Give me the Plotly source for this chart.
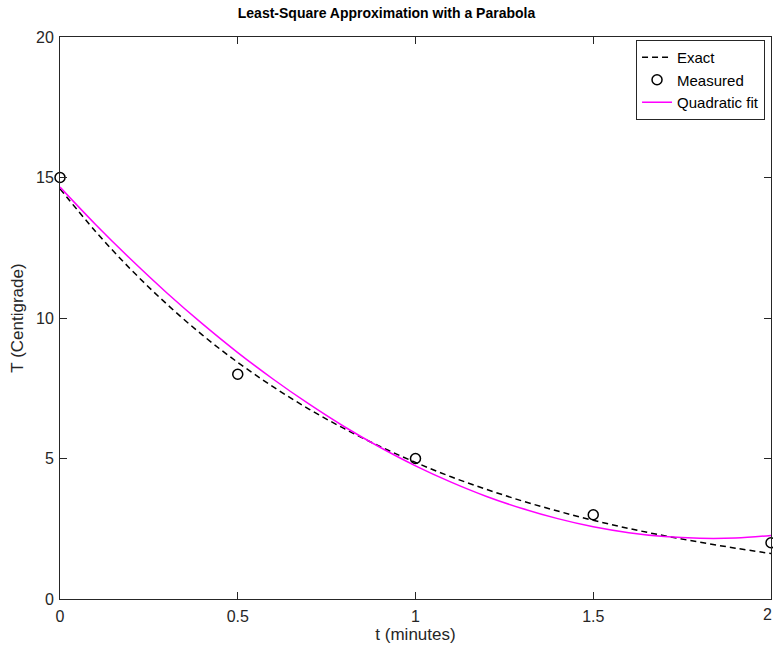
import plotly.graph_objects as go

# Measured data
t_meas = [0, 0.5, 1.0, 1.5, 2.0]
T_meas = [15, 8, 5, 3, 2]

# Sample times for the curves
t_curve = [0.0, 0.1, 0.2, 0.3, 0.4, 0.5, 0.6, 0.7, 0.8, 0.9, 1.0,
           1.1, 1.2, 1.3, 1.4, 1.5, 1.6, 1.7, 1.8, 1.9, 2.0]

# "Exact" curve values
T_exact = [14.60, 13.08, 11.72, 10.50, 9.40, 8.42, 7.55, 6.76, 6.06, 5.43, 4.86,
           4.35, 3.90, 3.49, 3.13, 2.80, 2.51, 2.25, 2.02, 1.81, 1.62]

# Quadratic fit values
T_fit = [14.66, 13.33, 12.08, 10.90, 9.80, 8.77, 7.82, 6.94, 6.13, 5.40, 4.74,
         4.16, 3.65, 3.22, 2.86, 2.57, 2.36, 2.22, 2.16, 2.17, 2.26]

x_ticks = [0, 0.5, 1, 1.5, 2]
x_ticktext = ["0", "0.5", "1", "1.5", ""]
x_last_label = "2"
y_ticks = [0, 5, 10, 15, 20]

FONT = "Liberation Sans, Arial, sans-serif"
FS_TICK = 16
FS_LABEL = 17
FS_LEG = 15

fig = go.Figure()
fig.add_trace(go.Scatter(
    x=t_curve, y=T_exact, mode="lines", name="Exact",
    line=dict(color="black", width=1.5, dash="6px,4px", shape="spline"),
))
fig.add_trace(go.Scatter(
    x=t_meas, y=T_meas, mode="markers", name="Measured",
    marker=dict(symbol="circle-open", size=10, color="black", line=dict(width=1.5)),
    cliponaxis=False,
))
fig.add_trace(go.Scatter(
    x=t_curve, y=T_fit, mode="lines", name="Quadratic fit",
    line=dict(color="#ff00ff", width=1.5, shape="spline"),
))

axis_common = dict(
    showline=True, linecolor="#262626", linewidth=1, mirror="ticks",
    ticks="inside", ticklen=7, tickcolor="#262626", tickwidth=1,
    showgrid=False, zeroline=False,
    tickfont=dict(family=FONT, size=FS_TICK, color="#262626"),
)

fig.update_layout(
    width=773, height=646,
    margin=dict(l=60, r=2, t=37, b=47),
    paper_bgcolor="white", plot_bgcolor="white",
    font=dict(family=FONT, size=FS_TICK, color="#262626"),
    title=dict(text="<b>Least-Square Approximation with a Parabola</b>",
               x=0.5, xanchor="center", y=0.988, yanchor="top",
               font=dict(family=FONT, size=14, color="black")),
    xaxis=dict(range=[0, 2], tickvals=x_ticks, ticktext=x_ticktext,
               ticklabelstandoff=3,
               title=dict(text="t (minutes)", standoff=0,
                          font=dict(family=FONT, size=FS_LABEL, color="#262626")),
               **axis_common),
    yaxis=dict(range=[0, 20], tickvals=y_ticks, ticklabelstandoff=2,
               title=dict(text="T (Centigrade)", standoff=8,
                          font=dict(family=FONT, size=FS_LABEL, color="#262626")),
               **axis_common),
    legend=dict(x=0.9916, y=0.9947, xanchor="right", yanchor="top",
                bgcolor="white", bordercolor="#262626", borderwidth=1,
                font=dict(family=FONT, size=FS_LEG, color="black"),
                itemwidth=30, tracegroupgap=0),
    showlegend=True,
    annotations=[dict(text=x_last_label, x=x_ticks[-1], xref="x", y=0, yref="paper",
                      yanchor="top", yshift=-5, xshift=-4, showarrow=False,
                      font=dict(family=FONT, size=FS_TICK, color="#262626"))],
)

fig.write_html("out.html")
